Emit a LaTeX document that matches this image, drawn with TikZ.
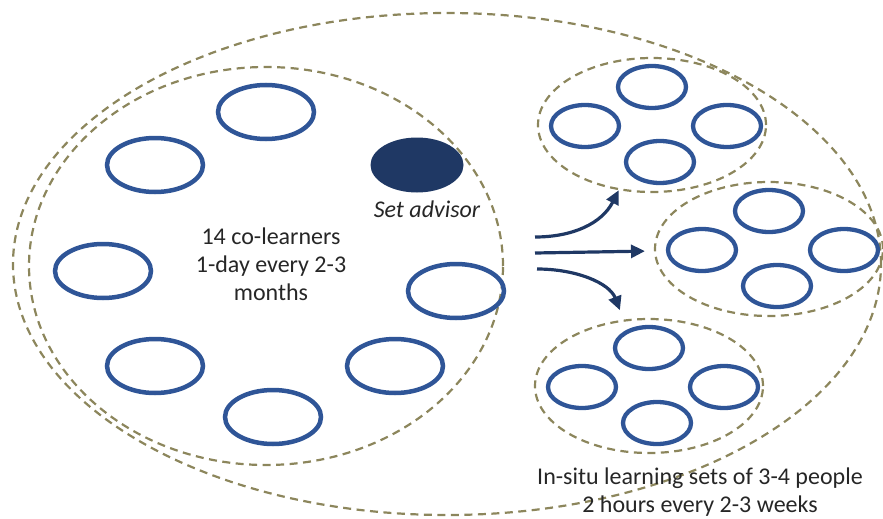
\documentclass[tikz,border=0pt]{standalone}
\usepackage{fontspec}
\setmainfont{Carlito}
\usetikzlibrary{shapes.geometric, positioning, arrows.meta}
\definecolor{ringblue}{RGB}{47,85,151}
\definecolor{navy}{RGB}{31,56,100}
\definecolor{dashgreen}{RGB}{140,134,92}
\definecolor{txtgray}{RGB}{38,38,38}
\tikzstyle{learner}=[draw=ringblue, line width=4.5pt, ellipse, 
    minimum width=96pt, minimum height=54pt, inner sep=0pt]
\tikzstyle{member}=[draw=ringblue, line width=4.3pt, ellipse, 
    minimum width=68pt, minimum height=42pt, inner sep=0pt]
\tikzstyle{advisor}=[fill=navy, ellipse, minimum width=93pt, 
    minimum height=55pt, inner sep=0pt]
\tikzstyle{grp}=[draw=dashgreen, line width=2.2pt, 
    dash pattern=on 8pt off 5.5pt, ellipse, inner sep=0pt]
\tikzstyle{ann}=[text=txtgray, font=\fontsize{24}{28}\selectfont, 
    inner sep=0pt, align=center]
\tikzstyle{flow}=[draw=navy, line width=3.2pt, -{Triangle[length=14pt,width=13pt]}]
\newcommand{\lset}[3]{%
    \node (#1) [grp, minimum width=228pt, minimum height=134pt] at (#2,#3) {};
    \path (#1.center)+(0,-38) node (#1t) [member] {};
    \path (#1.center)+(-67,1) node (#1l) [member] {};
    \path (#1.center)+(75,1) node (#1r) [member] {};
    \path (#1.center)+(8,37) node (#1b) [member] {};}

\begin{document}
\begin{tikzpicture}[x=1pt, y=-1pt]
    \useasboundingbox (0,0) rectangle (883,519);
    \node (all) [grp, minimum width=868pt, minimum height=502pt] at (447,264) {};
    \node (core) [grp, minimum width=474pt, minimum height=398pt] at (266,266) {};
    \node (l1) [learner] at (266,112) {};
    \node (l2) [learner] at (155,165) {};
    \node (l3) [learner] at (103,271) {};
    \node (l4) [learner] at (456,291) {};
    \node (l5) [learner] at (155,366) {};
    \node (l6) [learner] at (395,366) {};
    \node (l7) [learner] at (273,417) {};
    \node (adv) [advisor] at (417,165) {};
    \node (advtxt) [ann, below=8pt of adv, xshift=10pt] {\itshape Set advisor};
    \node (coretxt) [ann] at (271,264) {14 co-learners\\1-day every 2-3\\months};
    \lset{grpA}{652}{125}
    \lset{grpB}{769}{249}
    \lset{grpC}{649}{386}
    \node (settxt) [ann, anchor=north] at (700,468) {In-situ learning sets of 3-4 people\\2 hours every 2-3 weeks};
    \coordinate (s1) at (535,237);
    \coordinate (s2) at (535,253);
    \coordinate (s3) at (537,269);
    \draw [flow] (s1) to[out=0, in=243] (grpA.243);
    \draw [flow, shorten >=9pt] (s2) -- (grpB);
    \draw [flow, shorten >=10pt] (s3) to[out=0, in=111] (grpC.111);
\end{tikzpicture}
\end{document}
